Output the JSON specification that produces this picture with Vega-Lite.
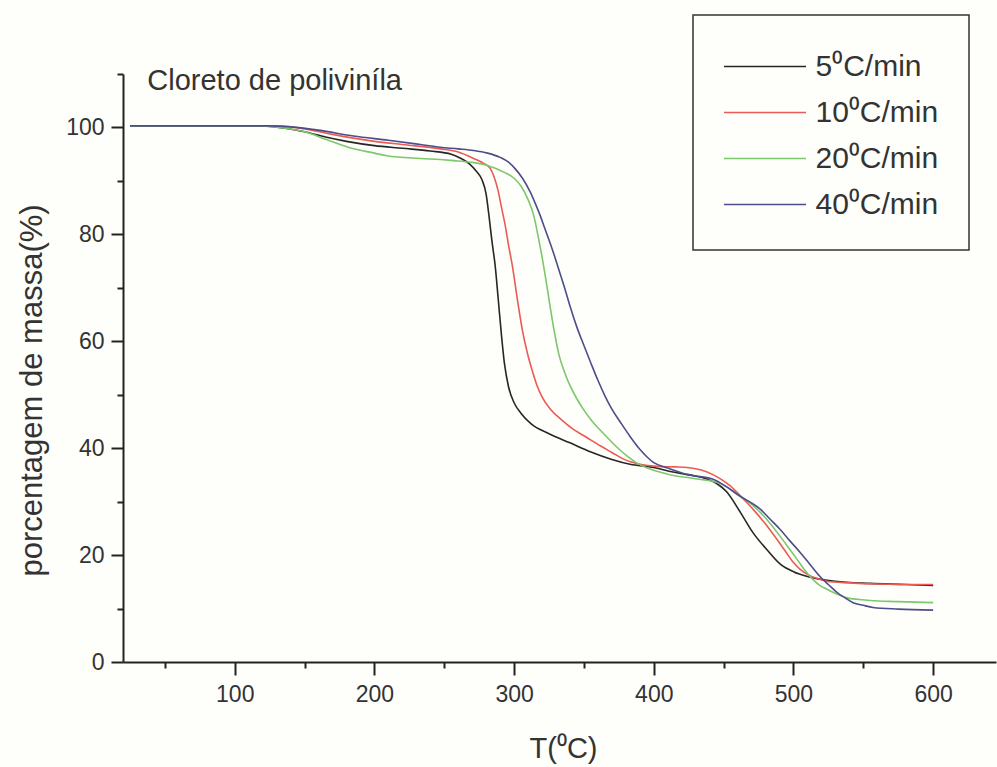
{
  "$schema": "https://vega.github.io/schema/vega-lite/v6.json",
  "width": 873,
  "height": 588,
  "autosize": {"type": "none"},
  "padding": {"left": 123, "top": 74, "right": 1, "bottom": 105},
  "background": "#fefefa",
  "config": {"view": {"stroke": null}, "font": "Liberation Sans", "legend": {"strokeWidth": 1.5}},
  "datasets": {
    "tga": [
      {"T":25,"m":100.3,"s":"5⁰C/min"},{"T":60,"m":100.3,"s":"5⁰C/min"},{"T":100,"m":100.3,"s":"5⁰C/min"},{"T":120,"m":100.3,"s":"5⁰C/min"},{"T":135,"m":99.9,"s":"5⁰C/min"},{"T":150,"m":99.2,"s":"5⁰C/min"},{"T":165,"m":98.2,"s":"5⁰C/min"},{"T":180,"m":97.4,"s":"5⁰C/min"},{"T":200,"m":96.6,"s":"5⁰C/min"},{"T":220,"m":96.1,"s":"5⁰C/min"},{"T":240,"m":95.6,"s":"5⁰C/min"},{"T":255,"m":95.0,"s":"5⁰C/min"},{"T":262,"m":94.2,"s":"5⁰C/min"},{"T":268,"m":93.2,"s":"5⁰C/min"},{"T":273,"m":91.8,"s":"5⁰C/min"},{"T":277,"m":90.2,"s":"5⁰C/min"},{"T":280,"m":87.5,"s":"5⁰C/min"},{"T":282,"m":83.5,"s":"5⁰C/min"},{"T":284,"m":79,"s":"5⁰C/min"},{"T":286.5,"m":74,"s":"5⁰C/min"},{"T":288.6,"m":68,"s":"5⁰C/min"},{"T":291,"m":61,"s":"5⁰C/min"},{"T":293,"m":56,"s":"5⁰C/min"},{"T":296,"m":51.5,"s":"5⁰C/min"},{"T":300,"m":48.5,"s":"5⁰C/min"},{"T":305,"m":46.5,"s":"5⁰C/min"},{"T":312,"m":44.6,"s":"5⁰C/min"},{"T":325,"m":42.7,"s":"5⁰C/min"},{"T":340,"m":41,"s":"5⁰C/min"},{"T":355,"m":39.3,"s":"5⁰C/min"},{"T":370,"m":37.9,"s":"5⁰C/min"},{"T":383,"m":37,"s":"5⁰C/min"},{"T":400,"m":36.4,"s":"5⁰C/min"},{"T":411,"m":35.7,"s":"5⁰C/min"},{"T":425,"m":35.0,"s":"5⁰C/min"},{"T":435,"m":34.5,"s":"5⁰C/min"},{"T":445,"m":33.4,"s":"5⁰C/min"},{"T":452,"m":31.9,"s":"5⁰C/min"},{"T":462,"m":28,"s":"5⁰C/min"},{"T":471,"m":24.2,"s":"5⁰C/min"},{"T":481,"m":21,"s":"5⁰C/min"},{"T":491,"m":18.2,"s":"5⁰C/min"},{"T":500,"m":16.9,"s":"5⁰C/min"},{"T":510,"m":16.0,"s":"5⁰C/min"},{"T":530,"m":15.1,"s":"5⁰C/min"},{"T":555,"m":14.7,"s":"5⁰C/min"},{"T":580,"m":14.5,"s":"5⁰C/min"},{"T":600,"m":14.3,"s":"5⁰C/min"},

      {"T":25,"m":100.3,"s":"10⁰C/min"},{"T":60,"m":100.3,"s":"10⁰C/min"},{"T":100,"m":100.3,"s":"10⁰C/min"},{"T":125,"m":100.3,"s":"10⁰C/min"},{"T":140,"m":100.1,"s":"10⁰C/min"},{"T":155,"m":99.5,"s":"10⁰C/min"},{"T":170,"m":98.7,"s":"10⁰C/min"},{"T":185,"m":98.0,"s":"10⁰C/min"},{"T":200,"m":97.4,"s":"10⁰C/min"},{"T":220,"m":96.8,"s":"10⁰C/min"},{"T":247,"m":96,"s":"10⁰C/min"},{"T":260,"m":95.4,"s":"10⁰C/min"},{"T":271,"m":94.2,"s":"10⁰C/min"},{"T":278,"m":93.3,"s":"10⁰C/min"},{"T":283,"m":92.3,"s":"10⁰C/min"},{"T":286,"m":90.5,"s":"10⁰C/min"},{"T":288.7,"m":88,"s":"10⁰C/min"},{"T":291,"m":85,"s":"10⁰C/min"},{"T":293.7,"m":81.6,"s":"10⁰C/min"},{"T":296,"m":78,"s":"10⁰C/min"},{"T":298.7,"m":74.2,"s":"10⁰C/min"},{"T":303,"m":66.7,"s":"10⁰C/min"},{"T":306,"m":62,"s":"10⁰C/min"},{"T":309.4,"m":57.9,"s":"10⁰C/min"},{"T":313,"m":54.5,"s":"10⁰C/min"},{"T":316.6,"m":51.6,"s":"10⁰C/min"},{"T":320,"m":49.6,"s":"10⁰C/min"},{"T":326,"m":47.3,"s":"10⁰C/min"},{"T":334,"m":45.3,"s":"10⁰C/min"},{"T":342,"m":43.6,"s":"10⁰C/min"},{"T":352,"m":42,"s":"10⁰C/min"},{"T":362,"m":40.4,"s":"10⁰C/min"},{"T":370,"m":39.2,"s":"10⁰C/min"},{"T":378,"m":38,"s":"10⁰C/min"},{"T":390,"m":37.0,"s":"10⁰C/min"},{"T":402,"m":36.6,"s":"10⁰C/min"},{"T":415,"m":36.5,"s":"10⁰C/min"},{"T":424,"m":36.4,"s":"10⁰C/min"},{"T":434,"m":35.9,"s":"10⁰C/min"},{"T":442,"m":35.1,"s":"10⁰C/min"},{"T":448,"m":34.2,"s":"10⁰C/min"},{"T":455,"m":32.9,"s":"10⁰C/min"},{"T":463,"m":30.8,"s":"10⁰C/min"},{"T":471,"m":28.6,"s":"10⁰C/min"},{"T":480,"m":25.8,"s":"10⁰C/min"},{"T":488,"m":23,"s":"10⁰C/min"},{"T":494,"m":20.8,"s":"10⁰C/min"},{"T":500,"m":18.6,"s":"10⁰C/min"},{"T":505,"m":17.3,"s":"10⁰C/min"},{"T":510,"m":16.4,"s":"10⁰C/min"},{"T":517,"m":15.6,"s":"10⁰C/min"},{"T":524,"m":15.1,"s":"10⁰C/min"},{"T":540,"m":14.8,"s":"10⁰C/min"},{"T":560,"m":14.6,"s":"10⁰C/min"},{"T":600,"m":14.5,"s":"10⁰C/min"},

      {"T":25,"m":100.3,"s":"20⁰C/min"},{"T":60,"m":100.3,"s":"20⁰C/min"},{"T":100,"m":100.3,"s":"20⁰C/min"},{"T":120,"m":100.3,"s":"20⁰C/min"},{"T":135,"m":99.9,"s":"20⁰C/min"},{"T":150,"m":99.2,"s":"20⁰C/min"},{"T":165,"m":97.8,"s":"20⁰C/min"},{"T":185,"m":96.0,"s":"20⁰C/min"},{"T":200,"m":95.2,"s":"20⁰C/min"},{"T":209,"m":94.7,"s":"20⁰C/min"},{"T":233,"m":94.2,"s":"20⁰C/min"},{"T":247,"m":94.0,"s":"20⁰C/min"},{"T":257,"m":93.8,"s":"20⁰C/min"},{"T":269,"m":93.5,"s":"20⁰C/min"},{"T":281,"m":92.9,"s":"20⁰C/min"},{"T":293,"m":91.6,"s":"20⁰C/min"},{"T":300,"m":90.5,"s":"20⁰C/min"},{"T":305,"m":89.0,"s":"20⁰C/min"},{"T":310,"m":86.5,"s":"20⁰C/min"},{"T":314,"m":83.6,"s":"20⁰C/min"},{"T":317.3,"m":79.5,"s":"20⁰C/min"},{"T":320,"m":75.8,"s":"20⁰C/min"},{"T":322.3,"m":72.3,"s":"20⁰C/min"},{"T":325.9,"m":66.3,"s":"20⁰C/min"},{"T":329.5,"m":60.8,"s":"20⁰C/min"},{"T":332,"m":57.6,"s":"20⁰C/min"},{"T":336,"m":54.3,"s":"20⁰C/min"},{"T":340.2,"m":51.6,"s":"20⁰C/min"},{"T":345,"m":49.2,"s":"20⁰C/min"},{"T":349.5,"m":47.3,"s":"20⁰C/min"},{"T":356,"m":45,"s":"20⁰C/min"},{"T":363.8,"m":42.8,"s":"20⁰C/min"},{"T":372,"m":40.6,"s":"20⁰C/min"},{"T":381,"m":38.5,"s":"20⁰C/min"},{"T":388,"m":37.2,"s":"20⁰C/min"},{"T":395.3,"m":36.3,"s":"20⁰C/min"},{"T":405,"m":35.5,"s":"20⁰C/min"},{"T":414,"m":34.9,"s":"20⁰C/min"},{"T":424,"m":34.5,"s":"20⁰C/min"},{"T":435,"m":34.1,"s":"20⁰C/min"},{"T":445.4,"m":33.6,"s":"20⁰C/min"},{"T":452,"m":32.8,"s":"20⁰C/min"},{"T":459.7,"m":31.4,"s":"20⁰C/min"},{"T":468,"m":29.9,"s":"20⁰C/min"},{"T":476.2,"m":28.0,"s":"20⁰C/min"},{"T":483,"m":26,"s":"20⁰C/min"},{"T":490.5,"m":23.5,"s":"20⁰C/min"},{"T":497,"m":21.2,"s":"20⁰C/min"},{"T":502.6,"m":19.2,"s":"20⁰C/min"},{"T":508,"m":17.2,"s":"20⁰C/min"},{"T":514,"m":15.4,"s":"20⁰C/min"},{"T":519,"m":14.3,"s":"20⁰C/min"},{"T":524,"m":13.6,"s":"20⁰C/min"},{"T":531,"m":12.7,"s":"20⁰C/min"},{"T":538.4,"m":12.0,"s":"20⁰C/min"},{"T":547,"m":11.7,"s":"20⁰C/min"},{"T":555,"m":11.5,"s":"20⁰C/min"},{"T":575,"m":11.3,"s":"20⁰C/min"},{"T":600,"m":11.1,"s":"20⁰C/min"},

      {"T":25,"m":100.3,"s":"40⁰C/min"},{"T":60,"m":100.3,"s":"40⁰C/min"},{"T":100,"m":100.3,"s":"40⁰C/min"},{"T":125,"m":100.3,"s":"40⁰C/min"},{"T":140,"m":100.1,"s":"40⁰C/min"},{"T":160,"m":99.5,"s":"40⁰C/min"},{"T":185,"m":98.4,"s":"40⁰C/min"},{"T":210,"m":97.6,"s":"40⁰C/min"},{"T":233,"m":96.8,"s":"40⁰C/min"},{"T":247,"m":96.3,"s":"40⁰C/min"},{"T":260,"m":96.0,"s":"40⁰C/min"},{"T":271,"m":95.7,"s":"40⁰C/min"},{"T":281,"m":95.2,"s":"40⁰C/min"},{"T":290,"m":94.4,"s":"40⁰C/min"},{"T":296,"m":93.5,"s":"40⁰C/min"},{"T":301,"m":92.2,"s":"40⁰C/min"},{"T":306,"m":90.5,"s":"40⁰C/min"},{"T":311.6,"m":87.9,"s":"40⁰C/min"},{"T":315,"m":85.9,"s":"40⁰C/min"},{"T":318.7,"m":83.5,"s":"40⁰C/min"},{"T":322,"m":81.1,"s":"40⁰C/min"},{"T":325.9,"m":78.3,"s":"40⁰C/min"},{"T":329.5,"m":75.5,"s":"40⁰C/min"},{"T":333,"m":72.6,"s":"40⁰C/min"},{"T":336.5,"m":69.7,"s":"40⁰C/min"},{"T":340,"m":66.6,"s":"40⁰C/min"},{"T":345,"m":62.6,"s":"40⁰C/min"},{"T":350,"m":59.2,"s":"40⁰C/min"},{"T":355,"m":55.9,"s":"40⁰C/min"},{"T":360,"m":52.7,"s":"40⁰C/min"},{"T":365,"m":49.8,"s":"40⁰C/min"},{"T":370,"m":47.3,"s":"40⁰C/min"},{"T":376,"m":44.9,"s":"40⁰C/min"},{"T":383,"m":42.2,"s":"40⁰C/min"},{"T":390,"m":39.8,"s":"40⁰C/min"},{"T":395,"m":38.4,"s":"40⁰C/min"},{"T":400,"m":37.3,"s":"40⁰C/min"},{"T":410,"m":36.3,"s":"40⁰C/min"},{"T":424,"m":35.1,"s":"40⁰C/min"},{"T":433,"m":34.7,"s":"40⁰C/min"},{"T":442.5,"m":34.2,"s":"40⁰C/min"},{"T":452,"m":32.8,"s":"40⁰C/min"},{"T":461.8,"m":31.0,"s":"40⁰C/min"},{"T":469,"m":29.9,"s":"40⁰C/min"},{"T":476.2,"m":28.6,"s":"40⁰C/min"},{"T":483,"m":26.8,"s":"40⁰C/min"},{"T":490.5,"m":24.8,"s":"40⁰C/min"},{"T":497,"m":22.8,"s":"40⁰C/min"},{"T":504.8,"m":20.5,"s":"40⁰C/min"},{"T":512,"m":18.2,"s":"40⁰C/min"},{"T":519,"m":16.0,"s":"40⁰C/min"},{"T":525,"m":14.5,"s":"40⁰C/min"},{"T":531.3,"m":13.0,"s":"40⁰C/min"},{"T":537,"m":12.0,"s":"40⁰C/min"},{"T":542.7,"m":11.1,"s":"40⁰C/min"},{"T":550,"m":10.6,"s":"40⁰C/min"},{"T":557,"m":10.2,"s":"40⁰C/min"},{"T":575,"m":9.9,"s":"40⁰C/min"},{"T":600,"m":9.7,"s":"40⁰C/min"}
    ],
    "note": [{"T": 37.4, "m": 107.1, "label": "Cloreto de poliviníla"}]
  },
  "layer": [
    {
      "data": {"name": "tga"},
      "mark": {"type": "line", "strokeWidth": 1.6, "interpolate": "monotone"},
      "encoding": {
        "x": {
          "field": "T", "type": "quantitative",
          "scale": {"domain": [20, 645], "nice": false, "zero": false},
          "axis": {
            "title": "T(⁰C)",
            "values": [50,100,150,200,250,300,350,400,450,500,550,600],
            "labelExpr": "datum.value % 100 === 0 ? datum.label : ''",
            "tickSize": {"condition": {"test": "datum.value % 100 === 0", "value": 13}, "value": 6},
            "labelPadding": 8,
            "labelFontSize": 23,
            "labelColor": "#333333",
            "labelFont": "Liberation Sans",
            "titleFont": "Liberation Sans",
            "titleFontSize": 29,
            "titleFontWeight": "normal",
            "titleColor": "#333333",
            "titleX": 440,
            "titleY": 95,
            "titleAlign": "center",
            "titleBaseline": "alphabetic",
            "grid": false,
            "domainColor": "#222222",
            "domainWidth": 2,
            "tickColor": "#222222",
            "tickWidth": 2,
            "format": "d"
          }
        },
        "y": {
          "field": "m", "type": "quantitative",
          "scale": {"domain": [0, 110], "nice": false},
          "axis": {
            "title": "porcentagem de massa(%)",
            "values": [0,10,20,30,40,50,60,70,80,90,100,110],
            "labelExpr": "datum.value % 20 === 0 && datum.value <= 100 ? datum.label : ''",
            "tickSize": {"condition": {"test": "datum.value % 20 === 0 && datum.value <= 100", "value": 12}, "value": 6},
            "labelPadding": 7,
            "labelFontSize": 23,
            "labelColor": "#333333",
            "labelFont": "Liberation Sans",
            "titleFont": "Liberation Sans",
            "titleFontSize": 31,
            "titleFontWeight": "normal",
            "titleColor": "#333333",
            "titleAngle": -90,
            "titleX": -91,
            "titleY": 316,
            "titleAlign": "center",
            "titleBaseline": "middle",
            "grid": false,
            "domainColor": "#222222",
            "domainWidth": 2,
            "tickColor": "#222222",
            "tickWidth": 2,
            "format": "d"
          }
        },
        "color": {
          "field": "s", "type": "nominal",
          "scale": {
            "domain": ["5⁰C/min", "10⁰C/min", "20⁰C/min", "40⁰C/min"],
            "range": ["#262626", "#ec5a55", "#7cc86c", "#4d4d8c"]
          },
          "legend": {
            "orient": "none",
            "legendX": 570,
            "legendY": -59,
            "title": null,
            "padding": 30,
            "strokeColor": "#333333",
            "fillColor": "#fefefa",
            "symbolType": "M-2,0H2",
            "symbolSize": 1681,
            "symbolStrokeWidth": 1.6,
            "symbolOffset": 20.5,
            "labelOffset": 29,
            "labelFontSize": 30,
            "labelFont": "Liberation Sans",
            "labelColor": "#333333",
            "labelLimit": 400,
            "rowPadding": 9
          }
        }
      }
    },
    {
      "data": {"name": "note"},
      "mark": {"type": "text", "align": "left", "baseline": "alphabetic", "fontSize": 29, "font": "Liberation Sans", "color": "#333333"},
      "encoding": {
        "x": {"field": "T", "type": "quantitative"},
        "y": {"field": "m", "type": "quantitative"},
        "text": {"field": "label"}
      }
    }
  ]
}
